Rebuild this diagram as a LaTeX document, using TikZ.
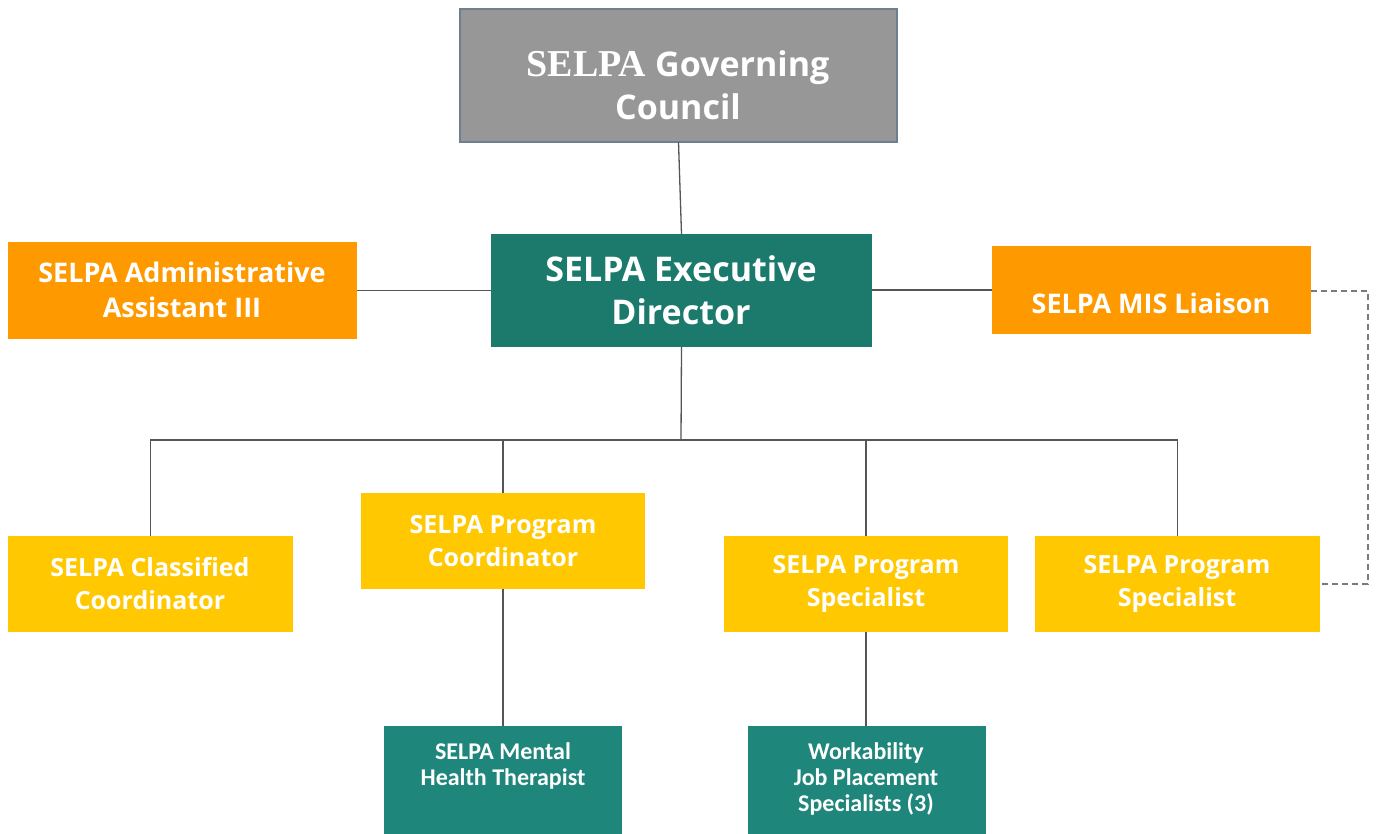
\documentclass[tikz,border=0pt]{standalone}
\usepackage{fontspec}
\newfontfamily\osans{Open Sans}
\newfontfamily\carl{Carlito}
\newfontfamily\lserif{Liberation Serif}
\definecolor{govgray}{HTML}{979797}
\definecolor{govline}{HTML}{6E7F8F}
\definecolor{execteal}{HTML}{1B7A6C}
\definecolor{lowteal}{HTML}{1E867A}
\definecolor{orng}{HTML}{FF9900}
\definecolor{yell}{HTML}{FFC800}
\definecolor{conn}{HTML}{555555}
\definecolor{dashc}{HTML}{7A7A7A}
\begin{document}
\begin{tikzpicture}[x=1pt,y=-1pt,
  boxbase/.style={anchor=north west,inner sep=0pt,outer sep=0pt},
  txt/.style={text=white,align=center,font=\osans\bfseries,inner sep=0pt},
  conline/.style={draw=conn,line width=1.3pt},
  dashline/.style={draw=dashc,line width=1.3pt,dash pattern=on 6pt off 4pt}]
\useasboundingbox (0,0) rectangle (1376,833);
% boxes
\node[boxbase,fill=govgray,draw=govline,line width=2pt,minimum width=437pt,minimum height=133pt] (gov) at (460,9) {};
\node[boxbase,fill=execteal,minimum width=381pt,minimum height=113pt] (exec) at (491,234) {};
\node[boxbase,fill=orng,minimum width=349pt,minimum height=97pt] (adm) at (8,242) {};
\node[boxbase,fill=orng,minimum width=319pt,minimum height=88pt] (mis) at (992,246) {};
\node[boxbase,fill=yell,minimum width=285pt,minimum height=96pt] (cls) at (8,536) {};
\node[boxbase,fill=yell,minimum width=284pt,minimum height=96pt] (pc) at (361,493) {};
\node[boxbase,fill=yell,minimum width=284pt,minimum height=96pt] (ps1) at (724,536) {};
\node[boxbase,fill=yell,minimum width=285pt,minimum height=96pt] (ps2) at (1035,536) {};
\node[boxbase,fill=lowteal,minimum width=238pt,minimum height=110pt] (mh) at (384,726) {};
\node[boxbase,fill=lowteal,minimum width=238pt,minimum height=110pt] (wk) at (748,726) {};
% texts
\node[txt,font=\osans\bfseries\fontsize{34}{43}\selectfont] (tgov) at (678,85) {{\lserif\bfseries\fontsize{38}{43}\selectfont SELPA} Governing\\Council};
\node[txt,font=\osans\bfseries\fontsize{34}{43}\selectfont] (texec) at (681,290) {SELPA Executive\\Director};
\node[txt,font=\osans\bfseries\fontsize{27}{35}\selectfont] (tadm) at (182,290) {SELPA Administrative\\Assistant III};
\node[txt,font=\osans\bfseries\fontsize{27}{35}\selectfont] (tmis) at (1151,303) {SELPA MIS Liaison};
\node[txt,font=\osans\bfseries\fontsize{25}{33}\selectfont] (tcls) at (150,584) {SELPA Classified\\Coordinator};
\node[txt,font=\osans\bfseries\fontsize{25}{33}\selectfont] (tpc) at (503,541) {SELPA Program\\Coordinator};
\node[txt,font=\osans\bfseries\fontsize{25}{33}\selectfont] (tps1) at (866,584) {SELPA Program\\Specialist};
\node[txt,font=\osans\bfseries\fontsize{25}{33}\selectfont] (tps2) at (1177,584) {SELPA Program\\Specialist};
\node[txt,font=\carl\bfseries\fontsize{24}{26}\selectfont] (tmh) at (503,766) {SELPA Mental\\Health Therapist};
\node[txt,font=\carl\bfseries\fontsize{24}{26}\selectfont] (twk) at (866,779) {Workability\\Job Placement\\Specialists (3)};
% connectors
\coordinate (bus) at (681,440);
\draw[conline] (gov.south) -- (exec.north);
\draw[conline] (adm.east) -- (adm.east -| exec.west);
\draw[conline] (exec.east |- mis.west) -- (mis.west);
\draw[conline] (exec.south) -- (bus);
\draw[conline] (cls.north) |- (bus) -| (ps2.north);
\draw[conline] (pc.north) -- (pc.north |- bus);
\draw[conline] (ps1.north) -- (ps1.north |- bus);
\draw[conline] (pc.south) -- (mh.north -| pc.south);
\draw[conline] (ps1.south) -- (wk.north -| ps1.south);
\coordinate (dcorner) at (1368,291);
\draw[dashline] (mis.east |- dcorner) -- (dcorner) |- (ps2.east);
\end{tikzpicture}
\end{document}
